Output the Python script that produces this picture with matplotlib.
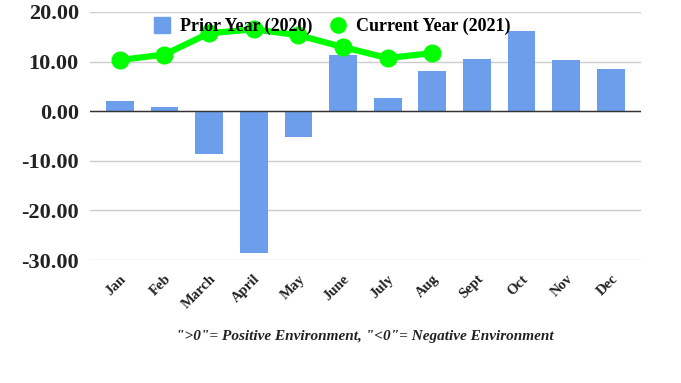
import numpy as np
from matplotlib import pyplot as plt
from matplotlib.lines import Line2D

# data bulanan
bulan = ['Jan', 'Feb', 'March', 'April', 'May', 'June', 'July', 'Aug',
         'Sept', 'Oct', 'Nov', 'Dec']
prior_2020 = [2.0, 0.9, -8.7, -28.5, -5.2, 11.3, 2.7, 8.1, 10.6, 16.1, 10.3, 8.4]
current_2021 = [10.3, 11.4, 15.7, 16.5, 15.3, 12.9, 10.7, 11.7]
yticks = [-30, -20, -10, 0, 10, 20]

plt.rcParams['font.family'] = ['Liberation Serif', 'DejaVu Serif']

warna_bar = '#6d9eeb'
warna_garis = '#00ff00'

fig = plt.figure(figsize=(6.81, 3.83), dpi=100)
ax = fig.add_axes([0.132, 0.321, 0.809, 0.648])

x = np.arange(len(bulan))
ax.bar(x, prior_2020, width=0.62, color=warna_bar, zorder=2)
ax.plot(x[:len(current_2021)], current_2021, color=warna_garis, lw=4.5,
        marker='o', ms=12, zorder=3)

ax.set_ylim(-30, 20)
ax.set_xlim(-0.67, len(bulan) - 0.33)
ax.set_yticks(yticks)
ax.set_yticklabels(['%.2f' % v for v in yticks],
                   fontsize=16, fontweight='bold', color='#222222')
ax.set_xticks(x)
ax.set_xticklabels(bulan, rotation=45, ha='right', rotation_mode='anchor',
                   fontsize=10.5, fontweight='bold', color='#222222')
ax.tick_params(length=0, pad=8)
ax.tick_params(axis='x', pad=9)

ax.grid(axis='y', color='#cccccc', lw=1, zorder=0)
ax.axhline(0, color='#333333', lw=1, zorder=2.5)
for s in ax.spines.values():
    s.set_visible(False)

# legenda: kotak untuk bar, lingkaran untuk garis
handles = [Line2D([], [], ls='none', marker='s', ms=11, color=warna_bar),
           Line2D([], [], ls='none', marker='o', ms=11, color=warna_garis)]
fig.legend(handles, ['Prior Year (2020)', 'Current Year (2021)'],
           loc='center', bbox_to_anchor=(0.487, 0.93), ncol=2, frameon=False,
           prop={'size': 13, 'weight': 'bold'}, handlelength=1.0,
           columnspacing=0.9, handletextpad=0.5)

fig.text(0.536, 0.122, '">0"= Positive Environment, "<0"= Negative Environment',
         ha='center', va='center', fontsize=11, fontweight='bold', style='italic',
         color='#222222')

fig.savefig('out.png', dpi=100)
